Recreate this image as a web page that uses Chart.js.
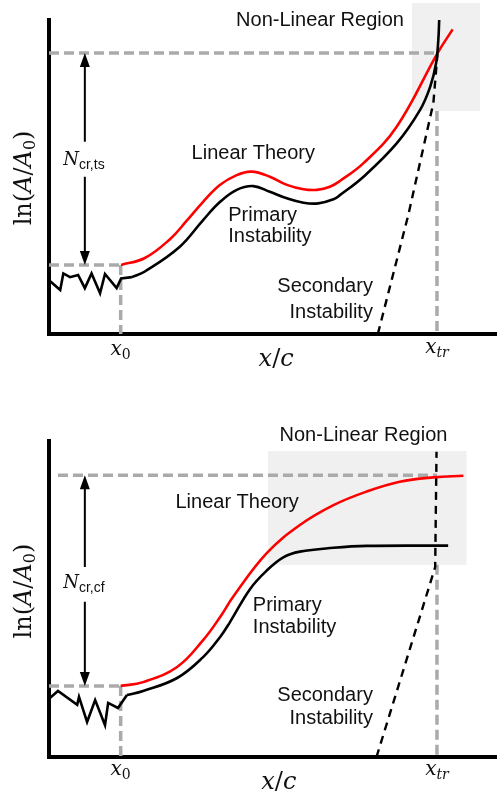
<!DOCTYPE html>
<html><head><meta charset="utf-8">
<script src="https://cdn.jsdelivr.net/npm/chart.js@4"></script>
<style>html,body{margin:0;padding:0;background:#fff;}canvas{display:block;}</style>
</head><body>
<canvas id="c1" width="497" height="399"></canvas>
<canvas id="c2" width="497" height="399"></canvas>
<script>
// ===== DATA (x/c and ln(A/A0), arbitrary units 0..10) =====
// shared stations
const x0 = 1.6;
const xTr = 8.66;

// --- top panel: two-stage (secondary instability) transition ---
const topNoiseX   = [0.02, 0.25, 0.32, 0.47, 0.65, 0.80, 0.95, 1.14, 1.25, 1.51, 1.61, 1.85];
const topNoiseY   = [1.69, 1.40, 1.93, 1.81, 1.88, 1.46, 1.93, 1.30, 1.91, 1.46, 1.77, 1.81];
const topPrimaryX = [1.85, 2.14, 2.92, 3.44, 3.82, 4.19, 4.56, 4.93, 5.31, 5.68, 6.01, 6.35, 6.50, 7.02, 7.76, 8.28, 8.51, 8.64, 8.69, 8.71];
const topPrimaryY = [1.81, 1.99, 2.78, 3.63, 4.21, 4.59, 4.71, 4.53, 4.32, 4.18, 4.16, 4.29, 4.43, 5.01, 6.07, 7.13, 7.88, 8.62, 9.36, 10.0];
const topLinearX  = [1.61, 2.14, 2.70, 3.07, 3.44, 3.82, 4.19, 4.52, 4.93, 5.31, 5.68, 5.98, 6.27, 6.50, 7.02, 7.76, 8.67, 9.01];
const topLinearY  = [2.20, 2.42, 3.02, 3.60, 4.21, 4.75, 5.06, 5.17, 5.01, 4.75, 4.61, 4.59, 4.69, 4.88, 5.44, 6.60, 8.94, 9.70];
const topSecondaryX = [7.34, 8.02, 8.58, 8.67];
const topSecondaryY = [0.00, 3.79, 7.36, 8.90];
const topLevels   = [2.20, 8.95];          // ln(A/A0) at x0 and at N_cr,ts
const topNonLinX  = [8.10, 9.62];
const topNonLinY  = [7.10, 10.54];

// --- bottom panel: saturating (cross-flow) transition ---
const botNoiseX   = [0.02, 0.20, 0.63, 0.67, 0.85, 1.03, 1.25, 1.32, 1.54, 1.74];
const botNoiseY   = [1.87, 2.09, 1.65, 1.90, 1.11, 1.80, 1.01, 1.71, 1.55, 1.96];
const botPrimaryX = [1.74, 2.10, 2.86, 3.44, 3.82, 4.04, 4.49, 4.86, 5.23, 5.60, 6.35, 7.09, 8.91];
const botPrimaryY = [1.96, 2.09, 2.50, 3.16, 3.80, 4.27, 5.32, 5.90, 6.32, 6.50, 6.62, 6.68, 6.69];
const botLinearX  = [1.60, 2.10, 2.86, 3.44, 3.82, 4.11, 4.86, 5.60, 6.35, 7.09, 7.83, 8.58, 9.25];
const botLinearY  = [2.25, 2.37, 2.85, 3.70, 4.43, 5.07, 6.45, 7.34, 7.97, 8.40, 8.71, 8.85, 8.90];
const botSecondaryX = [7.31, 8.62, 8.65];
const botSecondaryY = [0.00, 6.01, 9.66];
const botLevels   = [2.25, 8.92];          // ln(A/A0) at x0 and at N_cr,cf
const botNonLinX  = [4.89, 9.32];
const botNonLinY  = [6.08, 9.68];

// ===== helpers =====
const pts = (xs, ys) => xs.map((x, i) => ({ x: x, y: ys[i] }));
const GRAY = '#aaaaaa';
const SANS = '"Liberation Sans", Arial, sans-serif';
const SERIF = '"DejaVu Serif", serif';

function curve(xs, ys, color, order, smooth) {
  return { data: pts(xs, ys), borderColor: color, borderWidth: 2.6, pointRadius: 0, fill: false,
    tension: smooth ? 0.4 : 0, clip: false, order: order, borderJoinStyle: 'miter', borderCapStyle: 'butt' };
}
function dashed(xs, ys, color, width, dash, order) {
  return { data: pts(xs, ys), borderColor: color, borderWidth: width, borderDash: dash,
    pointRadius: 0, fill: false, tension: 0, clip: false, order: order, borderCapStyle: 'butt' };
}

function drawRuns(ctx, runs, x, y, align) {
  ctx.save();
  ctx.textBaseline = 'middle';
  ctx.textAlign = 'left';
  let total = 0;
  const w = runs.map(r => { ctx.font = r.font; const m = ctx.measureText(r.t).width; total += m; return m; });
  let cx = align === 'center' ? x - total / 2 : (align === 'right' ? x - total : x);
  runs.forEach((r, i) => {
    ctx.font = r.font; ctx.fillStyle = '#111';
    ctx.fillText(r.t, cx, y + (r.dy || 0));
    cx += w[i];
  });
  ctx.restore();
}

function annotPlugin(cfg) {
  return {
    id: 'annot',
    beforeDatasetsDraw(chart) {
      const { ctx, scales: { x, y } } = chart;
      const bx0 = x.getPixelForValue(cfg.boxX[0]), bx1 = x.getPixelForValue(cfg.boxX[1]);
      const by0 = y.getPixelForValue(cfg.boxY[0]), by1 = y.getPixelForValue(cfg.boxY[1]);
      ctx.save();
      ctx.fillStyle = '#f0f0f0';
      ctx.fillRect(bx0, by1, bx1 - bx0, by0 - by1);
      ctx.restore();
    },
    afterDatasetsDraw(chart) {
      const { ctx, scales: { x, y } } = chart;
      // double arrow with gap for label
      const ax = x.getPixelForValue(cfg.arrow.x);
      const yTop = y.getPixelForValue(cfg.arrow.top), yBot = y.getPixelForValue(cfg.arrow.bottom);
      const g0 = y.getPixelForValue(cfg.arrow.gapTop), g1 = y.getPixelForValue(cfg.arrow.gapBottom);
      ctx.save();
      ctx.strokeStyle = '#000'; ctx.fillStyle = '#000'; ctx.lineWidth = 2;
      ctx.beginPath();
      ctx.moveTo(ax, yTop + 10); ctx.lineTo(ax, g0);
      ctx.moveTo(ax, g1); ctx.lineTo(ax, yBot - 10);
      ctx.stroke();
      const hl = 14, hw = 5;
      ctx.beginPath();
      ctx.moveTo(ax, yTop); ctx.lineTo(ax - hw, yTop + hl); ctx.lineTo(ax + hw, yTop + hl); ctx.closePath(); ctx.fill();
      ctx.beginPath();
      ctx.moveTo(ax, yBot); ctx.lineTo(ax - hw, yBot - hl); ctx.lineTo(ax + hw, yBot - hl); ctx.closePath(); ctx.fill();
      ctx.restore();
      // texts
      cfg.texts.forEach(t => {
        const px = x.getPixelForValue(t.x), py = y.getPixelForValue(t.y);
        if (t.rotate) {
          ctx.save(); ctx.translate(px, py); ctx.rotate(-Math.PI / 2);
          drawRuns(ctx, t.runs, 0, 0, 'center');
          ctx.restore();
        } else {
          drawRuns(ctx, t.runs, px, py, t.align || 'center');
        }
      });
    }
  };
}

function sans(t) { return [{ t: t, font: '20px ' + SANS }]; }
const yLabelRuns = [
  { t: 'ln(', font: '24px ' + SERIF }, { t: 'A', font: 'italic 24px ' + SERIF },
  { t: '/', font: '24px ' + SERIF }, { t: 'A', font: 'italic 24px ' + SERIF },
  { t: '0', font: '16px ' + SERIF, dy: 6 }, { t: ')', font: '24px ' + SERIF }];
const xLabelRuns = [
  { t: 'x', font: 'italic 24px ' + SERIF }, { t: '/', font: '24px ' + SERIF }, { t: 'c', font: 'italic 24px ' + SERIF }];
const x0Runs = [{ t: 'x', font: 'italic 20px ' + SERIF }, { t: '0', font: '14px ' + SERIF, dy: 5 }];
const xTrRuns = [{ t: 'x', font: 'italic 20px ' + SERIF }, { t: 'tr', font: 'italic 14px ' + SERIF, dy: 5 }];
const nRuns = sub => [{ t: 'N', font: 'italic 18px ' + SERIF }, { t: sub, font: '14px ' + SANS, dy: 5 }];

function makeChart(id, d, padTop, padBottom, annot) {
  const datasets = [
    curve(d.primaryX, d.primaryY, '#000', 0, true),
    curve(d.noiseX, d.noiseY, '#000', 0, false),
    curve(d.linearX, d.linearY, '#ff0000', 1, true),
    dashed(d.secX, d.secY, '#000', 2.4, [8, 6], 2),
    dashed([d.topStart, xTr], [d.levels[1], d.levels[1]], GRAY, 3.5, [10, 5], 5),
    dashed([0, x0], [d.levels[0], d.levels[0]], GRAY, 3.5, [10, 5], 5),
    dashed([x0, x0], [d.levels[0], 0], GRAY, 3.5, [10, 5], 5),
    dashed([xTr, xTr], [d.boxY[0], 0], GRAY, 3.5, [10, 5], 5)
  ];
  return new Chart(document.getElementById(id), {
    type: 'line',
    data: { datasets: datasets },
    options: {
      responsive: false, animation: false, devicePixelRatio: 1,
      layout: { padding: { left: 49, right: 0, top: padTop, bottom: padBottom } },
      plugins: { legend: { display: false }, tooltip: { enabled: false }, title: { display: false } },
      scales: {
        x: { type: 'linear', min: 0, max: 10, ticks: { display: false },
             grid: { display: false, drawTicks: false }, border: { display: true, color: '#000', width: 4 },
             afterFit: s => { s.height = 0; } },
        y: { type: 'linear', min: 0, max: 10, ticks: { display: false },
             grid: { display: false, drawTicks: false }, border: { display: true, color: '#000', width: 4 },
             afterFit: s => { s.width = 0; } }
      }
    },
    plugins: [annotPlugin(annot)]
  });
}

makeChart('c1', {
  noiseX: topNoiseX, noiseY: topNoiseY, primaryX: topPrimaryX, primaryY: topPrimaryY,
  linearX: topLinearX, linearY: topLinearY, secX: topSecondaryX, secY: topSecondaryY,
  levels: topLevels, boxY: topNonLinY, topStart: 0
}, 20, 65, {
  boxX: topNonLinX, boxY: topNonLinY,
  arrow: { x: 0.80, top: topLevels[1], bottom: topLevels[0], gapTop: 6.12, gapBottom: 5.01 },
  texts: [
    { x: 6.05, y: 10.0, runs: sans('Non-Linear Region') },
    { x: 4.56, y: 5.76, runs: sans('Linear Theory') },
    { x: 4.0, y: 3.79, runs: sans('Primary'), align: 'left' },
    { x: 4.0, y: 3.09, runs: sans('Instability'), align: 'left' },
    { x: 7.23, y: 1.50, runs: sans('Secondary'), align: 'right' },
    { x: 7.23, y: 0.70, runs: sans('Instability'), align: 'right' },
    { x: 0.78, y: 5.54, runs: nRuns('cr,ts') },
    { x: -0.54, y: 4.97, runs: yLabelRuns, rotate: true },
    { x: x0, y: -0.51, runs: x0Runs },
    { x: 5.07, y: -0.83, runs: xLabelRuns },
    { x: xTr, y: -0.45, runs: xTrRuns }
  ]
});

makeChart('c2', {
  noiseX: botNoiseX, noiseY: botNoiseY, primaryX: botPrimaryX, primaryY: botPrimaryY,
  linearX: botLinearX, linearY: botLinearY, secX: botSecondaryX, secY: botSecondaryY,
  levels: botLevels, boxY: botNonLinY, topStart: 0.2
}, 42, 41, {
  boxX: botNonLinX, boxY: botNonLinY,
  arrow: { x: 0.80, top: botLevels[1], bottom: botLevels[0], gapTop: 6.01, gapBottom: 4.91 },
  texts: [
    { x: 7.02, y: 10.19, runs: sans('Non-Linear Region') },
    { x: 4.20, y: 8.04, runs: sans('Linear Theory') },
    { x: 4.55, y: 4.81, runs: sans('Primary'), align: 'left' },
    { x: 4.55, y: 4.11, runs: sans('Instability'), align: 'left' },
    { x: 7.23, y: 1.96, runs: sans('Secondary'), align: 'right' },
    { x: 7.23, y: 1.23, runs: sans('Instability'), align: 'right' },
    { x: 0.78, y: 5.51, runs: nRuns('cr,cf') },
    { x: -0.54, y: 5.25, runs: yLabelRuns, rotate: true },
    { x: x0, y: -0.41, runs: x0Runs },
    { x: 5.13, y: -0.82, runs: xLabelRuns },
    { x: xTr, y: -0.41, runs: xTrRuns }
  ]
});
</script>
</body></html>
